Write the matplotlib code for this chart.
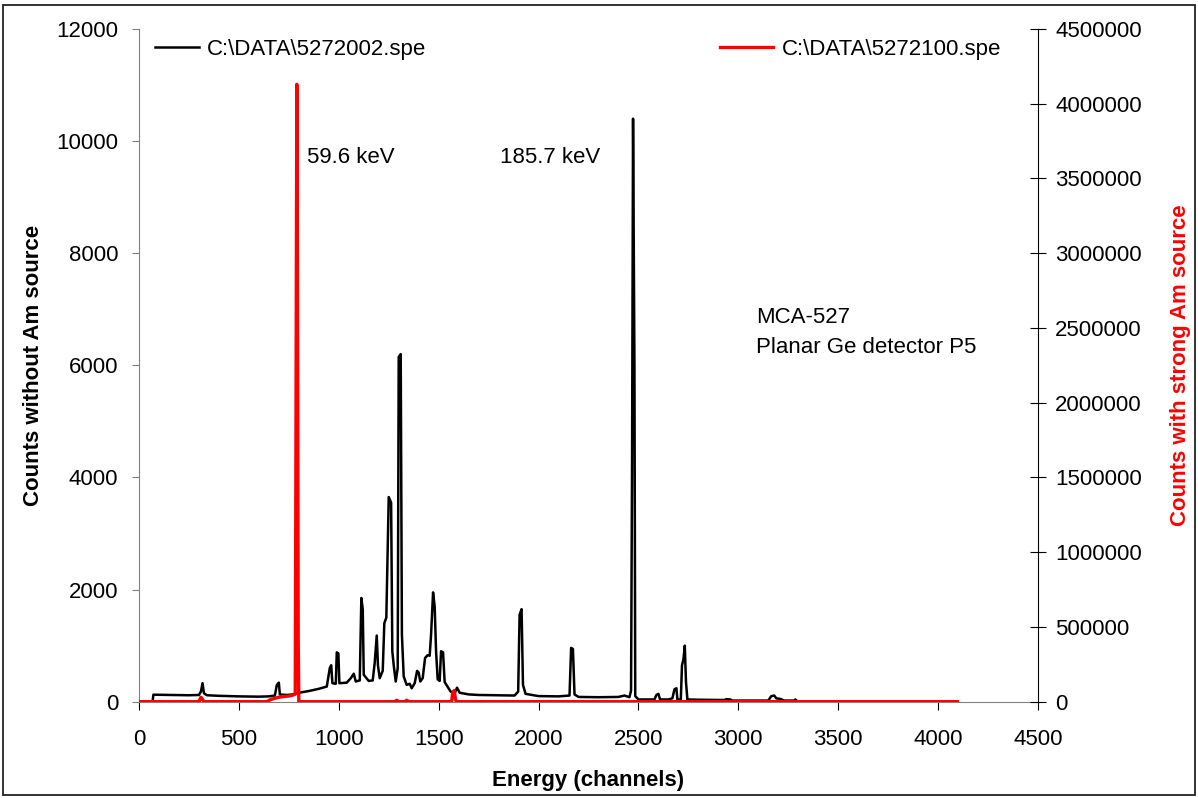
import matplotlib
matplotlib.use('Agg')
import matplotlib.pyplot as plt
from matplotlib.patches import Rectangle
from matplotlib.ticker import FuncFormatter

# spectrum without Am source (left axis), vertices
ch_bg = [0, 68, 72, 150, 250, 300, 310, 318, 325, 340, 400, 500, 600, 650, 680, 690, 700, 705,
         740, 770, 790, 800, 850, 900, 940, 955, 962, 968, 985, 990, 998, 1003, 1040, 1060, 1075,
         1085, 1105, 1113, 1120, 1125, 1150, 1170, 1180, 1190, 1196, 1205, 1220, 1228, 1238, 1250,
         1262, 1268, 1275, 1285, 1295, 1300, 1310, 1316, 1325, 1340, 1355, 1365, 1380, 1392, 1400,
         1408, 1420, 1432, 1445, 1455, 1462, 1472, 1480, 1487, 1495, 1505, 1512, 1522, 1530, 1560,
         1580, 1592, 1605, 1650, 1700, 1800, 1880, 1898, 1905, 1915, 1922, 1935, 2000, 2100, 2155,
         2163, 2172, 2180, 2200, 2300, 2400, 2430, 2455, 2463, 2468, 2473, 2477, 2480, 2484, 2500,
         2580, 2590, 2600, 2608, 2650, 2670, 2680, 2690, 2695, 2712, 2718, 2725, 2732, 2738, 2745,
         2800, 2930, 2940, 2960, 2970, 3150, 3165, 3180, 3190, 3210, 3230, 3280, 3285, 3295, 3300,
         4096]
counts_bg = [0, 0, 125, 120, 115, 120, 180, 330, 150, 115, 105, 95, 90, 95, 110, 300, 340, 130,
             120, 130, 150, 160, 190, 230, 270, 600, 650, 330, 320, 880, 860, 330, 340, 420, 500,
             360, 380, 1850, 1650, 480, 370, 380, 700, 1180, 650, 420, 550, 1400, 1500, 3650,
             3550, 900, 650, 360, 600, 6150, 6200, 1200, 450, 300, 320, 240, 330, 550, 520,
             360, 420, 780, 830, 820, 1200, 1950, 1700, 900, 400, 370, 900, 880, 350, 180,
             150, 250, 160, 130, 120, 115, 110, 180, 1550, 1650, 300, 140, 100, 95, 110,
             960, 940, 130, 85, 80, 85, 110, 80, 200, 4200, 10400, 8000, 6000, 100, 40,
             40, 120, 140, 40, 40, 60, 220, 240, 40, 40, 650, 750, 1000, 350, 40,
             35, 30, 45, 40, 20, 20, 100, 110, 60, 50, 20, 20, 40, 10, 0,
             0]

# spectrum with strong Am source (right axis)
ch_am = [0, 300, 310, 318, 325, 640, 660, 700, 760, 782, 784, 790, 792, 797, 800, 1280, 1290, 1300,
         1330, 1340, 1350, 1565, 1570, 1578, 1585, 1590, 4096]
counts_am = [0, 0, 30000, 15000, 0, 0, 15000, 30000, 40000, 50000, 900000, 4130000, 3600000,
             400000, 0, 0, 10000, 0, 0, 10000, 0, 0, 60000, 75000, 10000, 0, 0]

xticks = list(range(0, 4501, 500))
yticks = list(range(0, 12001, 2000))
y2ticks = list(range(0, 4500001, 500000))

plt.rcParams['font.family'] = ['Liberation Sans', 'DejaVu Sans']
plt.rcParams['font.size'] = 16

fig = plt.figure(figsize=(11.98, 7.98), dpi=100)
ax = fig.add_axes([139/1198, 1-701.7/798, 899/1198, 672.7/798])
ax2 = ax.twinx()

l1, = ax.plot(ch_bg, counts_bg, '-', color='black', lw=1.8, label='C:\\DATA\\5272002.spe')
l2, = ax2.plot(ch_am, counts_am, '-', color='red', lw=2.4, label='C:\\DATA\\5272100.spe')

ax.set_xlim(0, 4500)
ax.set_ylim(0, 12000)
ax2.set_ylim(0, 4500000)
ax.set_xticks(xticks)
ax.set_yticks(yticks)
ax2.set_yticks(y2ticks)
ax2.yaxis.set_major_formatter(FuncFormatter(lambda v, p: '%d' % v))

for a in (ax, ax2):
    a.spines['top'].set_visible(False)
ax.spines['left'].set_color('#808080')
ax2.spines['left'].set_visible(False)
ax.spines['bottom'].set_color('#808080')
ax2.spines['bottom'].set_visible(False)
ax.spines['right'].set_visible(False)
ax2.spines['right'].set_color('black')

ax.tick_params(axis='y', direction='out', length=5, pad=10, color='#808080')
ax.tick_params(axis='x', direction='out', length=6, pad=14)
ax2.tick_params(axis='y', direction='inout', length=11, pad=7)

ax.set_xlabel('Energy (channels)', fontweight='bold', labelpad=14)
ax.set_ylabel('Counts without Am source', fontweight='bold', labelpad=9)
ax2.set_ylabel('Counts with strong Am source', fontweight='bold', color='red', labelpad=20)

ax.text(840, 9700, '59.6 keV', va='center', ha='left')
ax.text(1805, 9700, '185.7 keV', va='center', ha='left')
ax.text(3090, 6845, 'MCA-527', va='center', ha='left')
ax.text(3090, 6310, 'Planar Ge detector P5', va='center', ha='left')

leg1 = ax2.legend(handles=[l1], loc='upper left', bbox_to_anchor=(16/899, 0.985), frameon=False,
                  borderpad=0, borderaxespad=0, handlelength=2.0, handletextpad=0.35)
ax2.add_artist(leg1)
ax2.legend(handles=[l2], loc='upper left', bbox_to_anchor=(581/899, 0.985), frameon=False,
           borderpad=0, borderaxespad=0, handlelength=2.4, handletextpad=0.4)

fig.patches.append(Rectangle((3/1198, 3/798), 1192/1198, 790/798, transform=fig.transFigure,
                             fill=False, edgecolor='#222222', lw=1.3))

fig.savefig('out.png', dpi=100)
